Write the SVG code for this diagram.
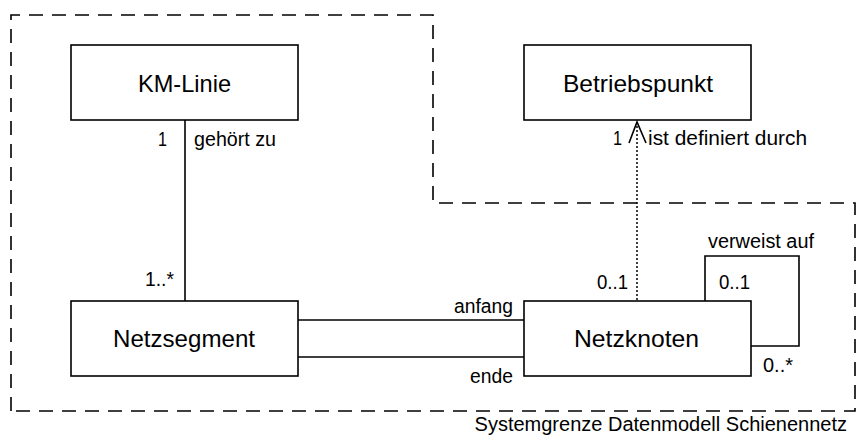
<svg xmlns="http://www.w3.org/2000/svg" width="856" height="439" viewBox="0 0 856 439">
<style>
.box{fill:#fff;stroke:#000;stroke-width:1.6}
.node{font-family:"Liberation Sans",Arial,sans-serif;font-size:24px;fill:#000}
.lbl{font-family:"Liberation Sans",Arial,sans-serif;font-size:20px;fill:#000}
.ln{fill:none;stroke:#000;stroke-width:1.6}
.dot{fill:none;stroke:#000;stroke-width:1.5;stroke-dasharray:2 2}
.bound{fill:none;stroke:#000;stroke-width:1.6;stroke-dasharray:14 9}
</style>
<g id="boundary">
<path class="bound" d="M11,411 L11,15 L433,15 L433,203 L855,203 L855,411 Z"/>
<text class="lbl" x="847" y="431" font-size="18" text-anchor="end">Systemgrenze Datenmodell Schienennetz</text>
</g>
<g id="connectors">
<line class="ln" x1="185" y1="120" x2="185" y2="301"/>
<line class="ln" x1="298" y1="320" x2="524" y2="320"/>
<line class="ln" x1="298" y1="357" x2="524" y2="357"/>
<line class="dot" x1="637" y1="122" x2="637" y2="301"/>
<polyline class="ln" points="629,143 637,122 646,143"/>
<polyline class="ln" points="705,301 705,256 799,256 799,346 751,346"/>
<text class="lbl" x="158" y="146" textLength="9" lengthAdjust="spacingAndGlyphs">1</text>
<text class="lbl" x="194" y="146" textLength="82" lengthAdjust="spacingAndGlyphs">gehört zu</text>
<text class="lbl" x="145" y="286" textLength="29" lengthAdjust="spacingAndGlyphs">1..*</text>
<text class="lbl" x="613" y="145" textLength="9" lengthAdjust="spacingAndGlyphs">1</text>
<text class="lbl" x="648" y="145" textLength="159" lengthAdjust="spacingAndGlyphs">ist definiert durch</text>
<text class="lbl" x="454" y="313" textLength="59" lengthAdjust="spacingAndGlyphs">anfang</text>
<text class="lbl" x="470" y="383" textLength="43" lengthAdjust="spacingAndGlyphs">ende</text>
<text class="lbl" x="597" y="289" textLength="31" lengthAdjust="spacingAndGlyphs">0..1</text>
<text class="lbl" x="719" y="289" textLength="31" lengthAdjust="spacingAndGlyphs">0..1</text>
<text class="lbl" x="708" y="248" textLength="106" lengthAdjust="spacingAndGlyphs">verweist auf</text>
<text class="lbl" x="763" y="372" textLength="30" lengthAdjust="spacingAndGlyphs">0..*</text>
</g>
<g id="km-linie">
<rect class="box" x="71" y="45" width="227" height="75"/>
<text class="node" x="138" y="92" textLength="93" lengthAdjust="spacingAndGlyphs">KM-Linie</text>
</g>
<g id="betriebspunkt">
<rect class="box" x="524" y="45" width="227" height="75"/>
<text class="node" x="563" y="92" textLength="150" lengthAdjust="spacingAndGlyphs">Betriebspunkt</text>
</g>
<g id="netzsegment">
<rect class="box" x="71" y="301" width="227" height="75"/>
<text class="node" x="113" y="347" textLength="142" lengthAdjust="spacingAndGlyphs">Netzsegment</text>
</g>
<g id="netzknoten">
<rect class="box" x="524" y="301" width="227" height="75"/>
<text class="node" x="574" y="347" textLength="125" lengthAdjust="spacingAndGlyphs">Netzknoten</text>
</g>
</svg>
